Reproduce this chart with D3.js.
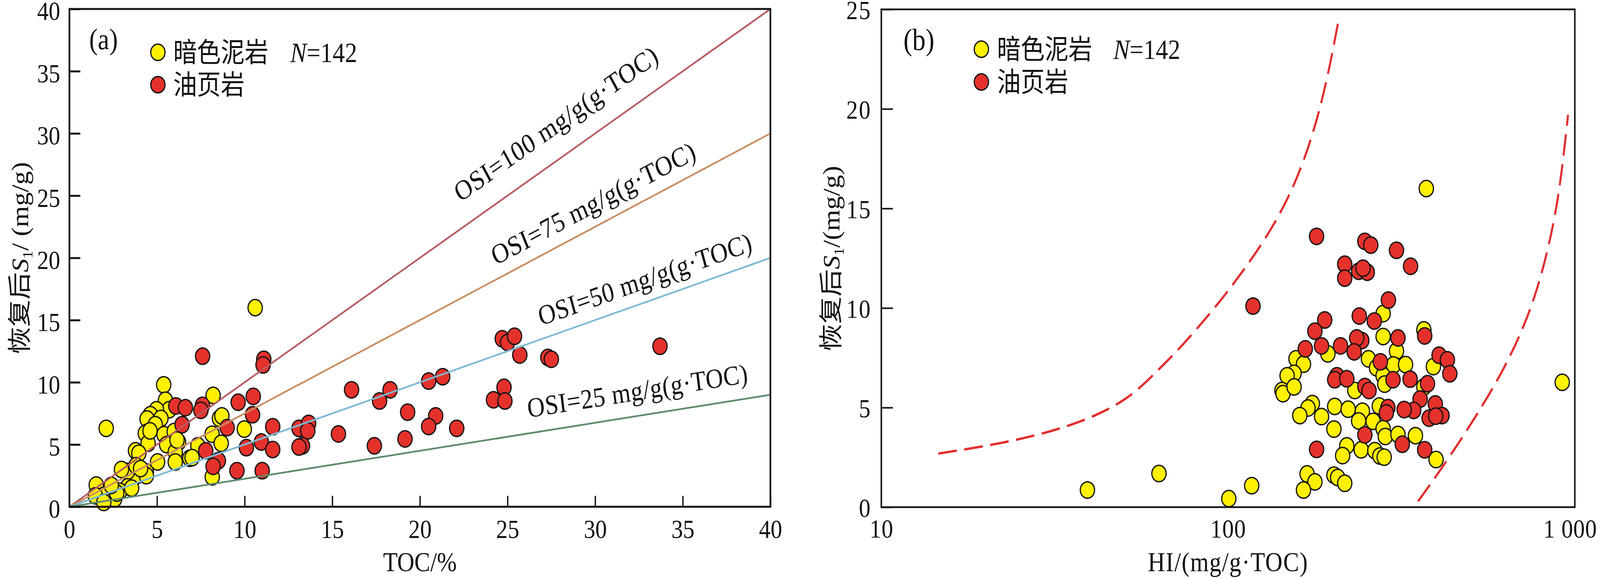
<!DOCTYPE html>
<html>
<head>
<meta charset="utf-8">
<script src="https://cdn.jsdelivr.net/npm/d3@7"></script>
<style>
  html, body { margin: 0; padding: 0; background: #fff; overflow: hidden; }
  svg { display: block; width: 100vw; height: 100vh; }
  text { fill: #111; }
</style>
</head>
<body>
<script>
// ---- panel (a): TOC vs restored S1 ----
const tocDark = [2.1, 5.38, 5.48, 5.69, 4.97, 4.62, 4.43, 5.22, 4.9, 4.45, 4.33, 5.4, 5.98, 6.23, 5.55, 4.49,
  3.77, 3.96, 6.04, 6.04, 5.03, 6.87, 4.39, 3.84, 3.32, 3.8, 3.32, 2.87, 2.38, 1.53, 1.99, 2.58, 1.48, 1.96,
  4.39, 4.06, 10.6, 8.2, 8.56, 8.7, 9.98, 8.14, 8.66, 7.33, 8.15, 7.0, 6.14, 3.55, 2.97, 4.6, 2.7, 2.39];
const s1DarkA = [6.3, 9.8, 8.56, 7.8, 7.8, 7.4, 7.05, 7.1, 6.6, 6.0, 5.9, 5.8, 6.05, 5.2, 5.0, 5.1,
  4.5, 4.3, 4.4, 3.6, 3.6, 3.9, 2.8, 2.5, 2.85, 3.3, 1.6, 1.25, 1.6, 1.75, 0.94, 0.63, 0.88, 0.35,
  2.5, 3.07, 16.0, 8.95, 7.1, 7.3, 6.24, 5.83, 5.1, 4.9, 2.4, 3.95, 5.36, 1.5, 3.0, 6.1, 1.1, 1.72];

const tocShale = [7.6, 11.09, 11.05, 6.07, 6.62, 7.59, 7.5, 6.43, 9.63, 10.49, 10.45, 9.0, 11.6, 10.95, 10.1,
  11.6, 7.78, 8.5, 8.2, 9.56, 11.0, 13.1, 13.65, 13.6, 13.3, 13.1, 15.35, 16.1, 17.4, 17.7, 18.3, 19.3,
  19.15, 20.5, 21.3, 20.9, 20.5, 22.1, 24.2, 24.8, 24.85, 24.7, 25.0, 25.4, 25.7, 27.3, 27.5, 33.7];
const s1ShaleA = [12.1, 11.85, 11.4, 8.1, 7.96, 8.15, 7.75, 6.6, 8.4, 8.87, 7.4, 6.36, 6.43, 5.2, 4.75,
  4.6, 4.5, 3.7, 3.25, 2.9, 2.9, 6.3, 6.7, 6.1, 4.9, 4.8, 5.85, 9.4, 4.9, 8.5, 9.4, 7.6,
  5.45, 10.1, 10.45, 7.3, 6.45, 6.3, 8.6, 9.6, 8.5, 13.5, 13.2, 13.7, 12.2, 12.0, 11.85, 12.9];

// OSI reference lines: S1 reached at TOC = 40
const osiValues = [100, 75, 50, 25];
const osiEndS1 = [40, 30, 20, 9];
const osiLabels = ["OSI=100 mg/g(g·TOC)", "OSI=75 mg/g(g·TOC)", "OSI=50 mg/g(g·TOC)", "OSI=25 mg/g(g·TOC)"];
const osiLabelToc = [22.9, 24.6, 27.1, 26.3];

const ticksA = [0, 5, 10, 15, 20, 25, 30, 35, 40];

// ---- panel (b): HI vs restored S1 ----
const hiDark = [280, 367, 280, 306, 254, 300, 325, 268, 280, 283, 391, 367, 194, 157, 165, 155, 148, 143,
  144, 155, 232, 175, 170, 161, 186, 203, 222, 244, 238, 262, 273, 202, 280, 284, 309, 347, 220, 214,
  242, 265, 274, 282, 398, 169, 178, 165, 202, 207, 217, 373, 920, 100.5, 117, 39.3, 63.2];
const s1DarkB = [9.72, 8.9, 8.57, 7.84, 7.45, 7.14, 7.16, 7.0, 6.6, 6.18, 7.06, 6.04, 7.7, 7.45, 7.18, 6.72, 6.6, 5.86,
  5.7, 6.04, 5.86, 5.2, 4.98, 4.6, 4.55, 5.06, 4.92, 4.82, 4.33, 4.31, 5.08, 3.92, 3.94, 3.55, 3.65, 3.59, 3.08, 2.59,
  2.88, 2.84, 2.57, 2.51, 2.39, 1.67, 1.27, 0.86, 1.61, 1.49, 1.2, 16.0, 6.27, 0.43, 1.08, 0.86, 1.69];

const hiShale = [180, 248, 258, 306, 336, 217, 217, 238, 252, 245, 290, 239, 264, 190, 178, 118, 369, 309,
  243, 235, 211, 186, 167, 231, 406, 429, 436, 275, 206, 203, 220, 248, 255, 299, 335, 376, 358, 396,
  414, 380, 397, 343, 322, 289, 286, 248, 318, 369, 180];
const s1ShaleB = [13.6, 13.35, 13.16, 12.9, 12.1, 12.2, 11.5, 11.85, 11.8, 12.0, 10.4, 9.6, 9.35, 9.4, 8.84, 10.1, 8.6, 8.5,
  8.37, 8.5, 8.1, 8.1, 7.95, 7.8, 7.63, 7.4, 6.7, 7.3, 6.6, 6.4, 6.45, 6.06, 5.86, 6.4, 6.43, 6.2, 5.43, 5.18,
  4.6, 4.47, 4.57, 4.86, 4.9, 5.0, 4.73, 3.63, 3.16, 2.88, 2.9];

// dashed envelope curves
const leftCurveHI = [14.6, 24.3, 38.0, 51.8, 61.6, 73.3, 90.2, 99.5, 124.7, 151, 174, 193, 209];
const leftCurveS1 = [2.69, 3.3, 4.24, 5.43, 6.74, 8.04, 9.88, 10.8, 13.1, 15.6, 18.4, 21.4, 24.6];
const rightCurveHI = [353, 427, 525, 625, 718, 795, 869, 916, 956];
const rightCurveS1 = [0.29, 2.29, 4.7, 6.92, 9.16, 11.37, 14.16, 16.7, 19.7];

const ticksBy = [0, 5, 10, 15, 20, 25];
const ticksBx = [10, 100, 1000];

const legendNames = ["暗色泥岩", "油页岩"];

// ---- styles ----
const W = 4702, H = 1483;
const serif = "'Liberation Serif', 'Times New Roman', serif";
const cjk = "'Noto Sans CJK SC', sans-serif";
const yellow = "#FFF100", red = "#E5312B", ink = "#141414";
const osiColors = ["#B75B61", "#C98D60", "#7DBAD4", "#5F8B6D"];
const R = 21;

// the figure is laid out on a 4702 x 1483 board and stretched to fill the window
const svg = d3.select("body").append("svg")
  .attr("viewBox", `0 0 ${W} ${H}`)
  .attr("preserveAspectRatio", "none");

svg.append("rect").attr("width", W).attr("height", H).attr("fill", "#fff");

const xA = d3.scaleLinear().domain([0, 40]).range([204, 2264]);
const yA = d3.scaleLinear().domain([0, 40]).range([1298, 23]);
const xB = d3.scaleLog().domain([10, 1000]).range([2590, 4628]);
const yB = d3.scaleLinear().domain([0, 25]).range([1299, 24]);

function dots(g, xs, ys, x, y, fill) {
  g.selectAll(null)
    .data(xs.map((v, i) => [v, ys[i]]))
    .enter()
    .append("circle")
    .attr("cx", (d) => x(d[0]))
    .attr("cy", (d) => y(d[1]))
    .attr("r", R)
    .attr("fill", fill)
    .attr("stroke", ink)
    .attr("stroke-width", 3.5);
}

function legend(g, cx, cy1, cy2, tx, nx, fs) {
  [yellow, red].forEach((c, i) => {
    const cy = i === 0 ? cy1 : cy2;
    g.append("circle").attr("cx", cx).attr("cy", cy).attr("r", R)
      .attr("fill", c).attr("stroke", ink).attr("stroke-width", 3.5);
    g.append("text").attr("x", tx).attr("y", cy + 25)
      .attr("font-family", cjk).attr("font-size", fs).text(legendNames[i]);
  });
  const n = g.append("text").attr("x", nx).attr("y", cy1 + 25)
    .attr("font-family", serif).attr("font-size", 72);
  n.append("tspan").attr("font-style", "italic").text("N");
  n.append("tspan").text("=142");
}

function yTitle(g, bx, cy, spaced) {
  const t = g.append("text")
    .attr("transform", `translate(${bx},${cy}) rotate(-90)`)
    .attr("text-anchor", "middle")
    .attr("font-size", 70);
  t.append("tspan").attr("font-family", cjk).text("恢复后");
  t.append("tspan").attr("font-family", serif).attr("font-style", "italic").text("S");
  t.append("tspan").attr("font-family", serif).attr("font-size", 40).attr("dy", 12).text("1");
  t.append("tspan").attr("font-family", serif).attr("dy", -12)
    .text(spaced ? "/ (mg/g)" : "/(mg/g)");
}

// ================= panel (a) =================
const gA = svg.append("g");

dots(gA, tocDark, s1DarkA, xA, yA, yellow);
dots(gA, tocShale, s1ShaleA, xA, yA, red);

// OSI lines sit on top of the points
osiValues.forEach((v, i) => {
  gA.append("line")
    .attr("x1", xA(0)).attr("y1", yA(0))
    .attr("x2", xA(40)).attr("y2", yA(osiEndS1[i]))
    .attr("stroke", osiColors[i]).attr("stroke-width", 4.5);
});

const labelGap = [58, 33, 33, 40];
osiLabels.forEach((lab, i) => {
  const k = osiEndS1[i] / 40;
  const ang = Math.atan2(yA(osiEndS1[i]) - yA(0), xA(40) - xA(0)) * 180 / Math.PI;
  const t0 = osiLabelToc[i];
  gA.append("text")
    .attr("transform", `translate(${xA(t0)},${yA(k * t0)}) rotate(${ang})`)
    .attr("y", -labelGap[i])
    .attr("font-family", serif).attr("font-size", 71)
    .attr("letter-spacing", 1)
    .text(lab);
});

const axLeftA = gA.append("g").attr("transform", `translate(${xA(0)},0)`)
  .call(d3.axisLeft(yA).tickValues(ticksA).tickSize(-32).tickSizeOuter(0).tickPadding(27));
axLeftA.select(".domain").remove();
axLeftA.selectAll(".tick line").attr("stroke", ink).attr("stroke-width", 5);
axLeftA.selectAll(".tick text").attr("font-family", serif).attr("font-size", 68)
  .attr("fill", ink).attr("dy", "0.41em");

const axBotA = gA.append("g").attr("transform", `translate(0,${yA(0)})`)
  .call(d3.axisBottom(xA).tickValues(ticksA).tickSize(-28).tickSizeOuter(0).tickPadding(32));
axBotA.select(".domain").remove();
axBotA.selectAll(".tick line").attr("stroke", ink).attr("stroke-width", 4);
axBotA.selectAll(".tick text").attr("font-family", serif).attr("font-size", 68)
  .attr("fill", ink).attr("dy", "0.71em");

gA.append("rect")
  .attr("x", xA(0)).attr("y", yA(40))
  .attr("width", xA(40) - xA(0)).attr("height", yA(0) - yA(40))
  .attr("fill", "none").attr("stroke", ink).attr("stroke-width", 5);

gA.append("text").attr("x", (xA(0) + xA(40)) / 2).attr("y", 1463)
  .attr("text-anchor", "middle").attr("font-family", serif).attr("font-size", 70)
  .text("TOC/%");

yTitle(gA, 83, 661, true);

gA.append("text").attr("x", 262).attr("y", 126)
  .attr("font-family", serif).attr("font-size", 76).text("(a)");
legend(gA, 464, 134, 217, 509, 853, 70);

// ================= panel (b) =================
const gB = svg.append("g");

// smooth dashed envelopes, drawn under the points
const curve = d3.line().x((d) => xB(d[0])).y((d) => yB(d[1])).curve(d3.curveBasis);
[[leftCurveHI, leftCurveS1], [rightCurveHI, rightCurveS1]].forEach(([hs, ss]) => {
  gB.append("path")
    .attr("d", curve(hs.map((h, i) => [h, ss[i]])))
    .attr("fill", "none")
    .attr("stroke", "#E22D2D")
    .attr("stroke-width", 6)
    .attr("stroke-dasharray", "55,22");
});

dots(gB, hiDark, s1DarkB, xB, yB, yellow);
dots(gB, hiShale, s1ShaleB, xB, yB, red);

const axLeftB = gB.append("g").attr("transform", `translate(${xB(10)},0)`)
  .call(d3.axisLeft(yB).tickValues(ticksBy).tickSize(-34).tickSizeOuter(0).tickPadding(29));
axLeftB.select(".domain").remove();
axLeftB.selectAll(".tick line").attr("stroke", ink).attr("stroke-width", 4);
axLeftB.selectAll(".tick text").attr("font-family", serif).attr("font-size", 68)
  .attr("fill", ink).attr("dy", "0.36em").attr("letter-spacing", 3);

const axBotB = gB.append("g").attr("transform", `translate(0,${yB(0)})`)
  .call(d3.axisBottom(xB).tickValues(ticksBx).tickSize(0).tickSizeOuter(0).tickPadding(30)
    .tickFormat((d) => (d === 1000 ? "1 000" : d)));
axBotB.select(".domain").remove();
axBotB.selectAll(".tick text").attr("font-family", serif).attr("font-size", 68)
  .attr("fill", ink).attr("dy", "0.71em").attr("letter-spacing", 1)
  .attr("dx", (d) => (d === 1000 ? -14 : 0));

gB.append("rect")
  .attr("x", xB(10)).attr("y", yB(25))
  .attr("width", xB(1000) - xB(10)).attr("height", yB(0) - yB(25))
  .attr("fill", "none").attr("stroke", ink).attr("stroke-width", 4.5);

gB.append("text").attr("x", (xB(10) + xB(1000)) / 2).attr("y", 1463)
  .attr("text-anchor", "middle").attr("font-family", serif).attr("font-size", 70)
  .attr("letter-spacing", 2)
  .text("HI/(mg/g·TOC)");

yTitle(gB, 2467, 662, false);

gB.append("text").attr("x", 2655).attr("y", 128)
  .attr("font-family", serif).attr("font-size", 78).text("(b)");
legend(gB, 2884, 126, 210, 2930, 3272, 70);
</script>
</body>
</html>
